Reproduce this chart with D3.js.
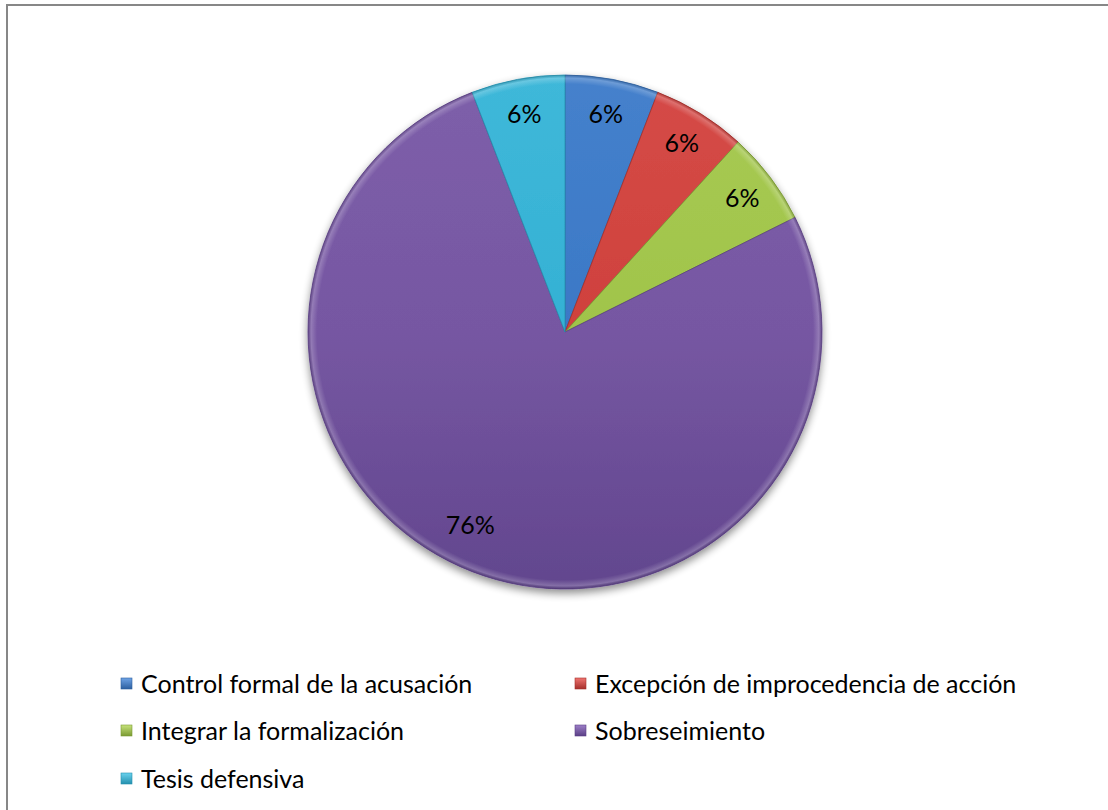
<!DOCTYPE html>
<html><head><meta charset="utf-8">
<script src="https://cdn.jsdelivr.net/npm/d3@7/dist/d3.min.js"></script>
<style>body{margin:0;background:#fff}svg{display:block}</style>
</head><body>
<svg id="c" width="1108" height="810"></svg>
<script>
const categories = ["Control formal de la acusación","Excepción de improcedencia de acción","Integrar la formalización","Sobreseimiento","Tesis defensiva"];
const values = [1,1,1,13,1];
const labels = ["6%","6%","6%","76%","6%"];
const colors = ["#3b78c6","#cf413d","#a0c44a","#7657a2","#34b1d4"];
const darkColors = ["#2c5f9f","#a52f2b","#7a9a32","#5a3f85","#2490ae"];
const lightColors = ["#6fa3e6","#ef7470","#c6e27a","#9d7fc8","#6ad2ee"];

const svg = d3.select("#c");
const W=1108,H=810, cx=565, cy=332, R=257;
const font = "Lato, 'Open Sans', sans-serif";

svg.append("rect").attr("x",7).attr("y",5).attr("width",W+10).attr("height",H+10)
  .attr("fill","#fff").attr("stroke","#878787").attr("stroke-width",2);

const defs = svg.append("defs");
const f = defs.append("filter").attr("id","sh").attr("x","-20%").attr("y","-20%").attr("width","140%").attr("height","140%");
f.append("feGaussianBlur").attr("in","SourceAlpha").attr("stdDeviation",4);
f.append("feOffset").attr("dx",0).attr("dy",4).attr("result","b");
f.append("feComponentTransfer").append("feFuncA").attr("type","linear").attr("slope",0.45);
const m=f.append("feMerge"); m.append("feMergeNode"); m.append("feMergeNode").attr("in","SourceGraphic");

colors.forEach((c,i)=>{
  const g = defs.append("linearGradient").attr("id","g"+i)
    .attr("gradientUnits","userSpaceOnUse").attr("x1",0).attr("y1",-R).attr("x2",0).attr("y2",R);
  g.append("stop").attr("offset","0").attr("stop-color",d3.interpolateRgb(c,lightColors[i])(0.2));
  g.append("stop").attr("offset","0.5").attr("stop-color",c);
  g.append("stop").attr("offset","1").attr("stop-color",d3.interpolateRgb(c,darkColors[i])(0.7));
  const lg = defs.append("linearGradient").attr("id","lg"+i).attr("x1",0).attr("y1",0).attr("x2",0).attr("y2",1);
  lg.append("stop").attr("offset","0").attr("stop-color",lightColors[i]);
  lg.append("stop").attr("offset","1").attr("stop-color",darkColors[i]);
});

const pie = d3.pie().sort(null).value(d=>d)(values);
const arc = d3.arc().innerRadius(0).outerRadius(R);
const rimArc = d3.arc().innerRadius(R-9).outerRadius(R);

const gp = svg.append("g").attr("transform",`translate(${cx},${cy})`);
const shadowG = gp.append("g").attr("filter","url(#sh)");
shadowG.selectAll("path.base").data(pie).join("path").attr("class","base")
  .attr("d",arc).attr("fill",(d,i)=>`url(#g${i})`)
  .attr("stroke",(d,i)=>darkColors[i]).attr("stroke-width",0.8).attr("stroke-linejoin","round");

const rg = defs.append("radialGradient").attr("id","rim").attr("gradientUnits","userSpaceOnUse")
  .attr("cx",0).attr("cy",0).attr("r",R);
rg.append("stop").attr("offset",(R-9)/R).attr("stop-color","#fff").attr("stop-opacity",0);
rg.append("stop").attr("offset",(R-3)/R).attr("stop-color","#fff").attr("stop-opacity",0.22);
rg.append("stop").attr("offset",1).attr("stop-color","#000").attr("stop-opacity",0.12);
gp.selectAll("path.rim").data(pie).join("path").attr("class","rim")
  .attr("d",rimArc).attr("fill","url(#rim)");

function labelPos(d){
  const big = (d.endAngle-d.startAngle) > Math.PI;
  const a = (d.startAngle+d.endAngle)/2 + (big ? 0.087 : 0);
  const r = big ? 215 : 222;
  return [r*Math.sin(a), -r*Math.cos(a)];
}
gp.selectAll("text").data(pie).join("text")
  .attr("transform",d=>{const p=labelPos(d); return `translate(${p[0]},${p[1]})`;})
  .attr("text-anchor","middle").attr("dy","0.35em")
  .attr("font-family",font).attr("font-size",25).attr("fill","#000")
  .text((d,i)=>labels[i]);

const legX=[121,575], legY=[684,731,779];
const lgd = svg.append("g");
categories.forEach((c,i)=>{
  const x=legX[i%2], y=legY[Math.floor(i/2)];
  lgd.append("rect").attr("x",x).attr("y",y-6).attr("width",11).attr("height",11)
    .attr("fill",`url(#lg${i})`).attr("stroke",darkColors[i]).attr("stroke-width",0.6);
  lgd.append("text").attr("x",x+20).attr("y",y).attr("dy","0.35em")
    .attr("font-family",font).attr("font-size",25).attr("fill","#000").text(c);
});
</script>
</body></html>
